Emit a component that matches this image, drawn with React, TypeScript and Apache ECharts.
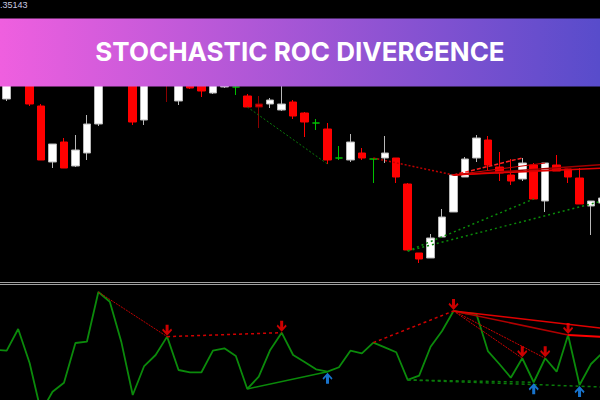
import React, { useEffect, useRef } from "react";
import * as echarts from "echarts";

// ---------- data ----------
const openP = [
  1.35301, 1.3536, 1.35345, 1.35294, 1.35238, 1.35258, 1.35234, 1.35247, 1.35276, 1.3535,
  1.3532, 1.35355, 1.3528, 1.3534, 1.3533, 1.35299, 1.3532, 1.35325, 1.35307, 1.35313,
  1.35313, 1.35304, 1.35296, 1.35296, 1.3529, 1.35298, 1.35287, 1.35277, 1.35271, 1.35242,
  1.3524, 1.35247, 1.35241, 1.35242, 1.35242, 1.35216, 1.35147, 1.35142, 1.35163, 1.35188,
  1.35223, 1.35242, 1.3526, 1.35233, 1.35225, 1.35221, 1.35235, 1.35199, 1.35235, 1.35231,
  1.35222, 1.35194, 1.35197,
];
const closeP = [
  1.3534, 1.3533, 1.35296, 1.3524, 1.35256, 1.35232, 1.3525, 1.35276, 1.3534, 1.3533,
  1.3536, 1.35278, 1.3534, 1.3532, 1.35316, 1.3533, 1.35312, 1.35309, 1.3532, 1.3532,
  1.35313, 1.35293, 1.35293, 1.353, 1.35296, 1.35284, 1.35278, 1.35277, 1.3524, 1.35242,
  1.35258, 1.35242, 1.35241, 1.35247, 1.35223, 1.3515, 1.35141, 1.35162, 1.35183, 1.35225,
  1.35241, 1.35262, 1.35235, 1.35227, 1.35219, 1.35237, 1.35201, 1.35237, 1.35229, 1.35223,
  1.35196, 1.35199, 1.35202,
];
const lowP = [
  1.35299, 1.35325, 1.35294, 1.3524, 1.35232, 1.35232, 1.35233, 1.3524, 1.35274, 1.35322,
  1.35316, 1.35275, 1.35275, 1.35315, 1.35298, 1.35295, 1.35311, 1.35303, 1.35306, 1.35312,
  1.35305, 1.35293, 1.35272, 1.35292, 1.35289, 1.35281, 1.35263, 1.3527, 1.35236, 1.3524,
  1.35238, 1.3524, 1.35217, 1.35237, 1.35217, 1.35149, 1.35137, 1.35142, 1.35163, 1.35188,
  1.35223, 1.35238, 1.3523, 1.35219, 1.35215, 1.35219, 1.35201, 1.35188, 1.35229, 1.35217,
  1.35196, 1.35165, 1.35196,
];
const highP = [
  1.3535, 1.35365, 1.3535, 1.35296, 1.35256, 1.35262, 1.35265, 1.35285, 1.3535, 1.3536,
  1.3537, 1.3536, 1.3535, 1.3535, 1.3534, 1.3534, 1.35325, 1.3533, 1.35325, 1.35322,
  1.35318, 1.35306, 1.35304, 1.35302, 1.3532, 1.353, 1.35288, 1.35281, 1.35277, 1.35254,
  1.35266, 1.35252, 1.35242, 1.35264, 1.35242, 1.35217, 1.35147, 1.35166, 1.35191, 1.35225,
  1.35243, 1.35265, 1.35264, 1.35248, 1.35241, 1.35242, 1.35237, 1.35237, 1.35245, 1.35231,
  1.35232, 1.35199, 1.35202,
];
const darkWickBars = [14, 22];

// Stochastic ROC oscillator (0..100); value of the bar just left of the window first
const oscBeforeFirst = 52;
const oscValues = [
  51.1, 69.2, 40.8, 0, 16.9, 24.4, 57.5, 58.6, 100, 91.9,
  58.6, 14.2, 38.3, 47.5, 62.8, 35, 33.1, 33.1, 51.1, 53.1,
  46.7, 19.2, 29.4, 51.7, 66.1, 47.5, 41.7, 35.6, 33.6, 37.3,
  51.1, 48.9, 57.8, 53.9, 49.8, 26.7, 30.3, 54.4, 67.5, 84.2,
  82.3, 81.7, 50.8, 40, 28.6, 44.8, 24.8, 44.8, 33.6, 64.2,
  22.5, 40, 49.2,
];

// divergence lines: [fromBar, fromValue, toBar, toValue]
const priceDivergences: [number, number, number, number][] = [
  [21, 1.35293, 28, 1.35236],
  [32, 1.35242, 39, 1.35225],
  [39, 1.35225, 45, 1.35242],
  [39, 1.35225, 47, 1.35237],
  [39, 1.35225, 49, 1.35231],
  [39, 1.35225, 54, 1.35237],
  [39, 1.35225, 54, 1.35233],
  [35, 1.35149, 46, 1.35201],
  [35, 1.35149, 52, 1.35199],
];
const oscDivergences: [number, number, number, number][] = [
  [8, 100, 14, 62.8],
  [14, 62.8, 24, 66.1],
  [21, 19.2, 28, 33.6],
  [32, 57.8, 39, 84.2],
  [35, 26.7, 46, 24.8],
  [35, 26.7, 52, 20.8],
  [39, 84.2, 45, 44.8],
  [39, 84.2, 47, 44.8],
  [39, 84.2, 49, 64.2],
  [39, 84.2, 54, 67.6],
  [49, 64.2, 54, 61.7],
];

const bearSignalBars = [14, 24, 39, 45, 47, 49];
const bullSignalBars = [28, 46, 50];

const TITLE = "STOCHASTIC ROC DIVERGENCE";
const PRICE_TEXT = ".35143";

// ---------- styles ----------
type LS = { color: string; width: number; type: any };
const priceLineStyles: LS[] = [
  { color: "#0a7a0a", width: 1, type: [2, 2] },
  { color: "#c00000", width: 1.5, type: [2, 2] },
  { color: "#ff2020", width: 1.5, type: [4, 2] },
  { color: "#d00000", width: 1, type: "solid" },
  { color: "#c00000", width: 1, type: "solid" },
  { color: "#a00000", width: 1.5, type: "solid" },
  { color: "#e00000", width: 1.5, type: "solid" },
  { color: "#0a8a0a", width: 1.5, type: [2, 3] },
  { color: "#0a8a0a", width: 1.5, type: [2, 3] },
];
const oscLineStyles: LS[] = [
  { color: "#c00000", width: 1, type: [2, 1] },
  { color: "#d00000", width: 1.5, type: [3, 3] },
  { color: "#0a8a0a", width: 1.5, type: "solid" },
  { color: "#d00000", width: 1.5, type: [3, 3] },
  { color: "#0a7a0a", width: 1.5, type: [3, 3] },
  { color: "#0a7a0a", width: 1.5, type: [3, 3] },
  { color: "#d00000", width: 1, type: [2, 1] },
  { color: "#d00000", width: 1, type: [2, 1] },
  { color: "#b00000", width: 1.5, type: "solid" },
  { color: "#e00000", width: 1.5, type: "solid" },
  { color: "#ff0000", width: 2, type: "solid" },
];

const DOWN_ARROW = "path://M3.5,0 L6.5,0 L6.5,6 L9,3.5 L10,5 L5,10 L0,5 L1,3.5 L3.5,6 Z";
const UP_ARROW = "path://M3.5,10 L6.5,10 L6.5,4 L9,6.5 L10,5 L5,0 L0,5 L1,6.5 L3.5,4 Z";

function lineSeries(d: [number, number, number, number], st: LS, axisIndex: number) {
  return {
    type: "line",
    xAxisIndex: axisIndex,
    yAxisIndex: axisIndex,
    data: [
      [d[0], d[1]],
      [d[2], d[3]],
    ],
    symbol: "none",
    silent: true,
    clip: false,
    z: 5,
    lineStyle: { color: st.color, width: st.width, type: st.type },
  };
}

export default function App() {
  const ref = useRef<HTMLDivElement>(null);

  useEffect(() => {
    document.body.style.margin = "0";
    const chart = echarts.init(ref.current!, undefined, { renderer: "svg" });

    const candleData = openP.map((o, i) => {
      const item: any = { value: [i, o, closeP[i], lowP[i], highP[i]] };
      if (darkWickBars.includes(i)) {
        item.itemStyle = { borderColor0: "#8b0000", color0: "#ee0000" };
      }
      return item;
    });

    const series: any[] = [
      {
        type: "candlestick",
        xAxisIndex: 0,
        yAxisIndex: 0,
        data: candleData,
        barWidth: 8,
        clip: false,
        z: 3,
        itemStyle: {
          color: "#ffffff",
          color0: "#ff0000",
          borderColor: "#b8b8b8",
          borderColor0: "#ff0000",
          borderColorDoji: "#00c000",
          borderWidth: 1,
        },
      },
      ...priceDivergences.map((d, k) => lineSeries(d, priceLineStyles[k], 0)),
      {
        type: "line",
        xAxisIndex: 1,
        yAxisIndex: 1,
        data: [[-1, oscBeforeFirst], ...oscValues.map((v, i) => [i, v])],
        symbol: "none",
        silent: true,
        z: 4,
        lineStyle: { color: "#0b8a0b", width: 1.8 },
      },
      ...oscDivergences.map((d, k) => lineSeries(d, oscLineStyles[k], 1)),
      {
        type: "scatter",
        xAxisIndex: 1,
        yAxisIndex: 1,
        data: bearSignalBars.map((b) => [b, oscValues[b]]),
        symbol: DOWN_ARROW,
        symbolSize: [10, 11],
        symbolOffset: [0, -6.5],
        itemStyle: { color: "#ff0000" },
        silent: true,
        clip: false,
        z: 8,
      },
      {
        type: "scatter",
        xAxisIndex: 1,
        yAxisIndex: 1,
        data: bullSignalBars.map((b) => [b, oscValues[b]]),
        symbol: UP_ARROW,
        symbolSize: [10, 11],
        symbolOffset: [0, 6.5],
        itemStyle: { color: "#1e90ff" },
        silent: true,
        clip: false,
        z: 8,
      },
    ];

    const hiddenAxis = {
      axisLine: { show: false },
      axisTick: { show: false },
      axisLabel: { show: false },
      splitLine: { show: false },
    };
    const xRange = { min: -0.585, max: 51.785 };

    chart.setOption({
      animation: false,
      backgroundColor: "#000000",
      grid: [
        { left: 0, top: 0, width: 600, height: 280 },
        { left: 0, top: 292, width: 600, height: 108 },
      ],
      xAxis: [
        { type: "value", gridIndex: 0, ...xRange, ...hiddenAxis },
        { type: "value", gridIndex: 1, ...xRange, ...hiddenAxis },
      ],
      yAxis: [
        { type: "value", gridIndex: 0, min: 1.3512, max: 1.354, ...hiddenAxis },
        { type: "value", gridIndex: 1, min: 10, max: 100, ...hiddenAxis },
      ],
      series,
      graphic: [
        {
          type: "text",
          left: 0,
          top: 0,
          z: 100,
          style: {
            text: PRICE_TEXT,
            fill: "#c8cce0",
            font: "9px 'Liberation Sans', Arial, sans-serif",
          },
        },
        {
          type: "line",
          z: 100,
          shape: { x1: 0, y1: 282.5, x2: 600, y2: 282.5 },
          style: { stroke: "#a0a0a0", lineWidth: 1 },
        },
        {
          type: "line",
          z: 100,
          shape: { x1: 0, y1: 284.5, x2: 600, y2: 284.5 },
          style: { stroke: "#a0a0a0", lineWidth: 1 },
        },
        {
          type: "rect",
          z: 100,
          shape: { x: 0, y: 18.5, width: 600, height: 68 },
          style: {
            fill: {
              type: "linear",
              x: 0,
              y: 0,
              x2: 1,
              y2: 0,
              colorStops: [
                { offset: 0, color: "#ef5fdf" },
                { offset: 1, color: "#584ccb" },
              ],
            },
          },
        },
        {
          type: "text",
          z: 101,
          x: 300,
          y: 51,
          style: {
            text: TITLE,
            fill: "#ffffff",
            font: "700 26px Inter, 'Open Sans', sans-serif",
            textAlign: "center",
            textVerticalAlign: "middle",
          },
        },
      ],
    });

    return () => chart.dispose();
  }, []);

  return <div ref={ref} style={{ position: "fixed", left: 0, top: 0, width: 600, height: 400 }} />;
}
